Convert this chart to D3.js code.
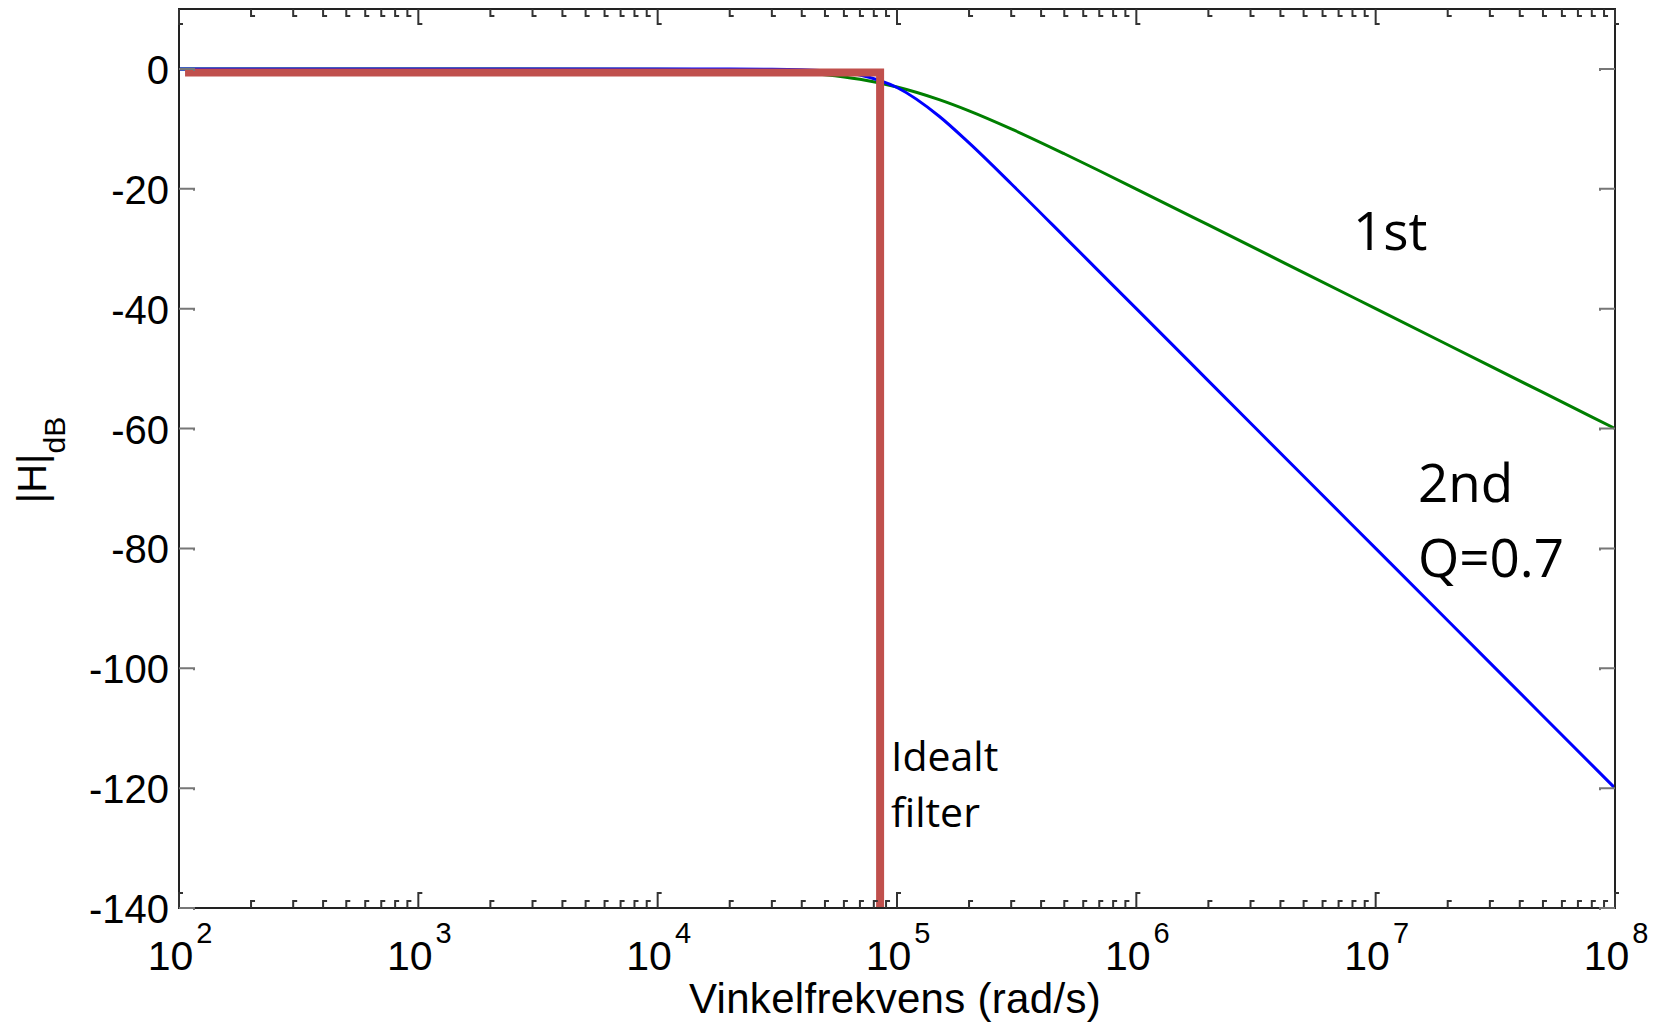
<!DOCTYPE html>
<html>
<head>
<meta charset="utf-8">
<script src="https://cdn.jsdelivr.net/npm/d3@7/dist/d3.min.js"></script>
<style>
  html, body { margin: 0; padding: 0; background: #fff; }
  svg { display: block; }
</style>
</head>
<body>
<svg id="chart" width="1658" height="1029"></svg>
<script>
// ---- data ----
const freq = [100, 1000, 10000, 20000, 30000, 50000, 70000, 100000, 150000, 200000, 300000, 500000, 700000, 1e6, 2e6, 5e6, 1e7, 2e7, 5e7, 1e8];
const firstOrder = [0, 0, -0.04, -0.17, -0.37, -0.97, -1.73, -3.01, -5.12, -6.99, -10.0, -14.15, -16.99, -20.04, -26.03, -33.98, -40.0, -46.02, -53.98, -60.0];
const secondOrder = [0, 0, 0, -0.01, -0.05, -0.30, -1.00, -3.10, -7.89, -12.35, -19.16, -27.97, -33.81, -40.0, -52.04, -67.96, -80.0, -92.04, -107.96, -120.0];
const idealFreq = [106, 85000, 85000];
const idealDb = [-0.6, -0.6, -140];
const yTicks = [0, -20, -40, -60, -80, -100, -120, -140];
const xTickExps = [2, 3, 4, 5, 6, 7, 8];

// ---- layout ----
const L = 179, R = 1615, T = 9, B = 908;
const svg = d3.select("#chart");
const x = d3.scaleLog().domain([1e2, 1e8]).range([L, R]);
const y = d3.scaleLinear().domain([-140, 10]).range([B, T]);

const tickCol = "#333";
const g = svg.append("g");

// curves
const line = d3.line().x(d => x(d[0])).y(d => y(d[1])).curve(d3.curveMonotoneX);
g.append("path").datum(freq.map((f, i) => [f, firstOrder[i]]))
  .attr("d", line).attr("fill", "none").attr("stroke", "#007f00").attr("stroke-width", 3);
g.append("path").datum(freq.map((f, i) => [f, secondOrder[i]]))
  .attr("d", line).attr("fill", "none").attr("stroke", "#0000ff").attr("stroke-width", 3);
const lineLin = d3.line().x(d => x(d[0])).y(d => y(d[1]));
g.append("path").datum(idealFreq.map((f, i) => [f, idealDb[i]]))
  .attr("d", lineLin).attr("fill", "none").attr("stroke", "#c0504d").attr("stroke-width", 8)
  .attr("stroke-linejoin", "miter");

// frame
g.append("rect").attr("x", L).attr("y", T).attr("width", R - L).attr("height", B - T)
  .attr("fill", "none").attr("stroke", "#222").attr("stroke-width", 2);

// x ticks (major and minor)
const xMinor = [];
for (let e = 2; e < 8; e++) for (let m = 2; m <= 9; m++) xMinor.push(m * Math.pow(10, e));
const xMajor = xTickExps.map(e => Math.pow(10, e));
function xTick(v, len) {
  const px = x(v);
  g.append("path").attr("d", `M${px},${B}V${B - len}h4`).attr("fill", "none").attr("stroke", tickCol).attr("stroke-width", 2);
  g.append("path").attr("d", `M${px},${T}V${T + len}h4`).attr("fill", "none").attr("stroke", tickCol).attr("stroke-width", 2);
}
xMinor.forEach(v => xTick(v, 7));
xMajor.forEach(v => xTick(v, 15));

// y ticks
yTicks.forEach(v => {
  const py = y(v);
  g.append("path").attr("d", `M${L},${py}H${L + 15}v2`).attr("fill", "none").attr("stroke", "#777").attr("stroke-width", 2);
  g.append("path").attr("d", `M${R},${py}H${R - 15}v2`).attr("fill", "none").attr("stroke", "#777").attr("stroke-width", 2);
});

// y tick labels
const labFont = "Liberation Sans, Arial, sans-serif";
g.selectAll("text.ylab").data(yTicks).enter().append("text")
  .attr("class", "ylab")
  .attr("x", L - 10).attr("y", d => y(d) + 15)
  .attr("text-anchor", "end").attr("font-family", labFont).attr("font-size", 40).attr("fill", "#000")
  .text(d => d === 0 ? "0" : "-" + Math.abs(d));

// x tick labels 10^n
xTickExps.forEach(e => {
  const t = g.append("text").attr("x", x(Math.pow(10, e)) + 1).attr("y", B + 62)
    .attr("text-anchor", "middle").attr("font-family", labFont).attr("font-size", 41).attr("fill", "#000");
  t.append("tspan").text("10");
  t.append("tspan").attr("dx", 3).attr("dy", -27).attr("font-size", 29).text(String(e));
});

// axis titles
svg.append("text").attr("x", 895).attr("y", 1013).attr("text-anchor", "middle")
  .attr("font-family", labFont).attr("font-size", 42).attr("letter-spacing", 0.3).attr("fill", "#000")
  .text("Vinkelfrekvens (rad/s)");
const yt = svg.append("text").attr("transform", "translate(46,460) rotate(-90)")
  .attr("text-anchor", "middle").attr("font-family", labFont).attr("font-size", 40).attr("fill", "#000");
yt.append("tspan").text("|H|");
yt.append("tspan").attr("dy", 19).attr("font-size", 30).text("dB");

// annotations
const annFont = "Open Sans, Noto Sans, sans-serif";
svg.append("text").attr("x", 1353).attr("y", 250).attr("font-family", annFont).attr("font-size", 53).attr("fill", "#000").text("1st");
svg.append("text").attr("x", 1418).attr("y", 502).attr("font-family", annFont).attr("font-size", 53).attr("fill", "#000").text("2nd");
svg.append("text").attr("x", 1418).attr("y", 577).attr("font-family", annFont).attr("font-size", 53).attr("fill", "#000").text("Q=0.7");
svg.append("text").attr("x", 891).attr("y", 771).attr("font-family", annFont).attr("font-size", 41).attr("fill", "#000").text("Idealt");
svg.append("text").attr("x", 891).attr("y", 827).attr("font-family", annFont).attr("font-size", 41).attr("fill", "#000").text("filter");
</script>
</body>
</html>
